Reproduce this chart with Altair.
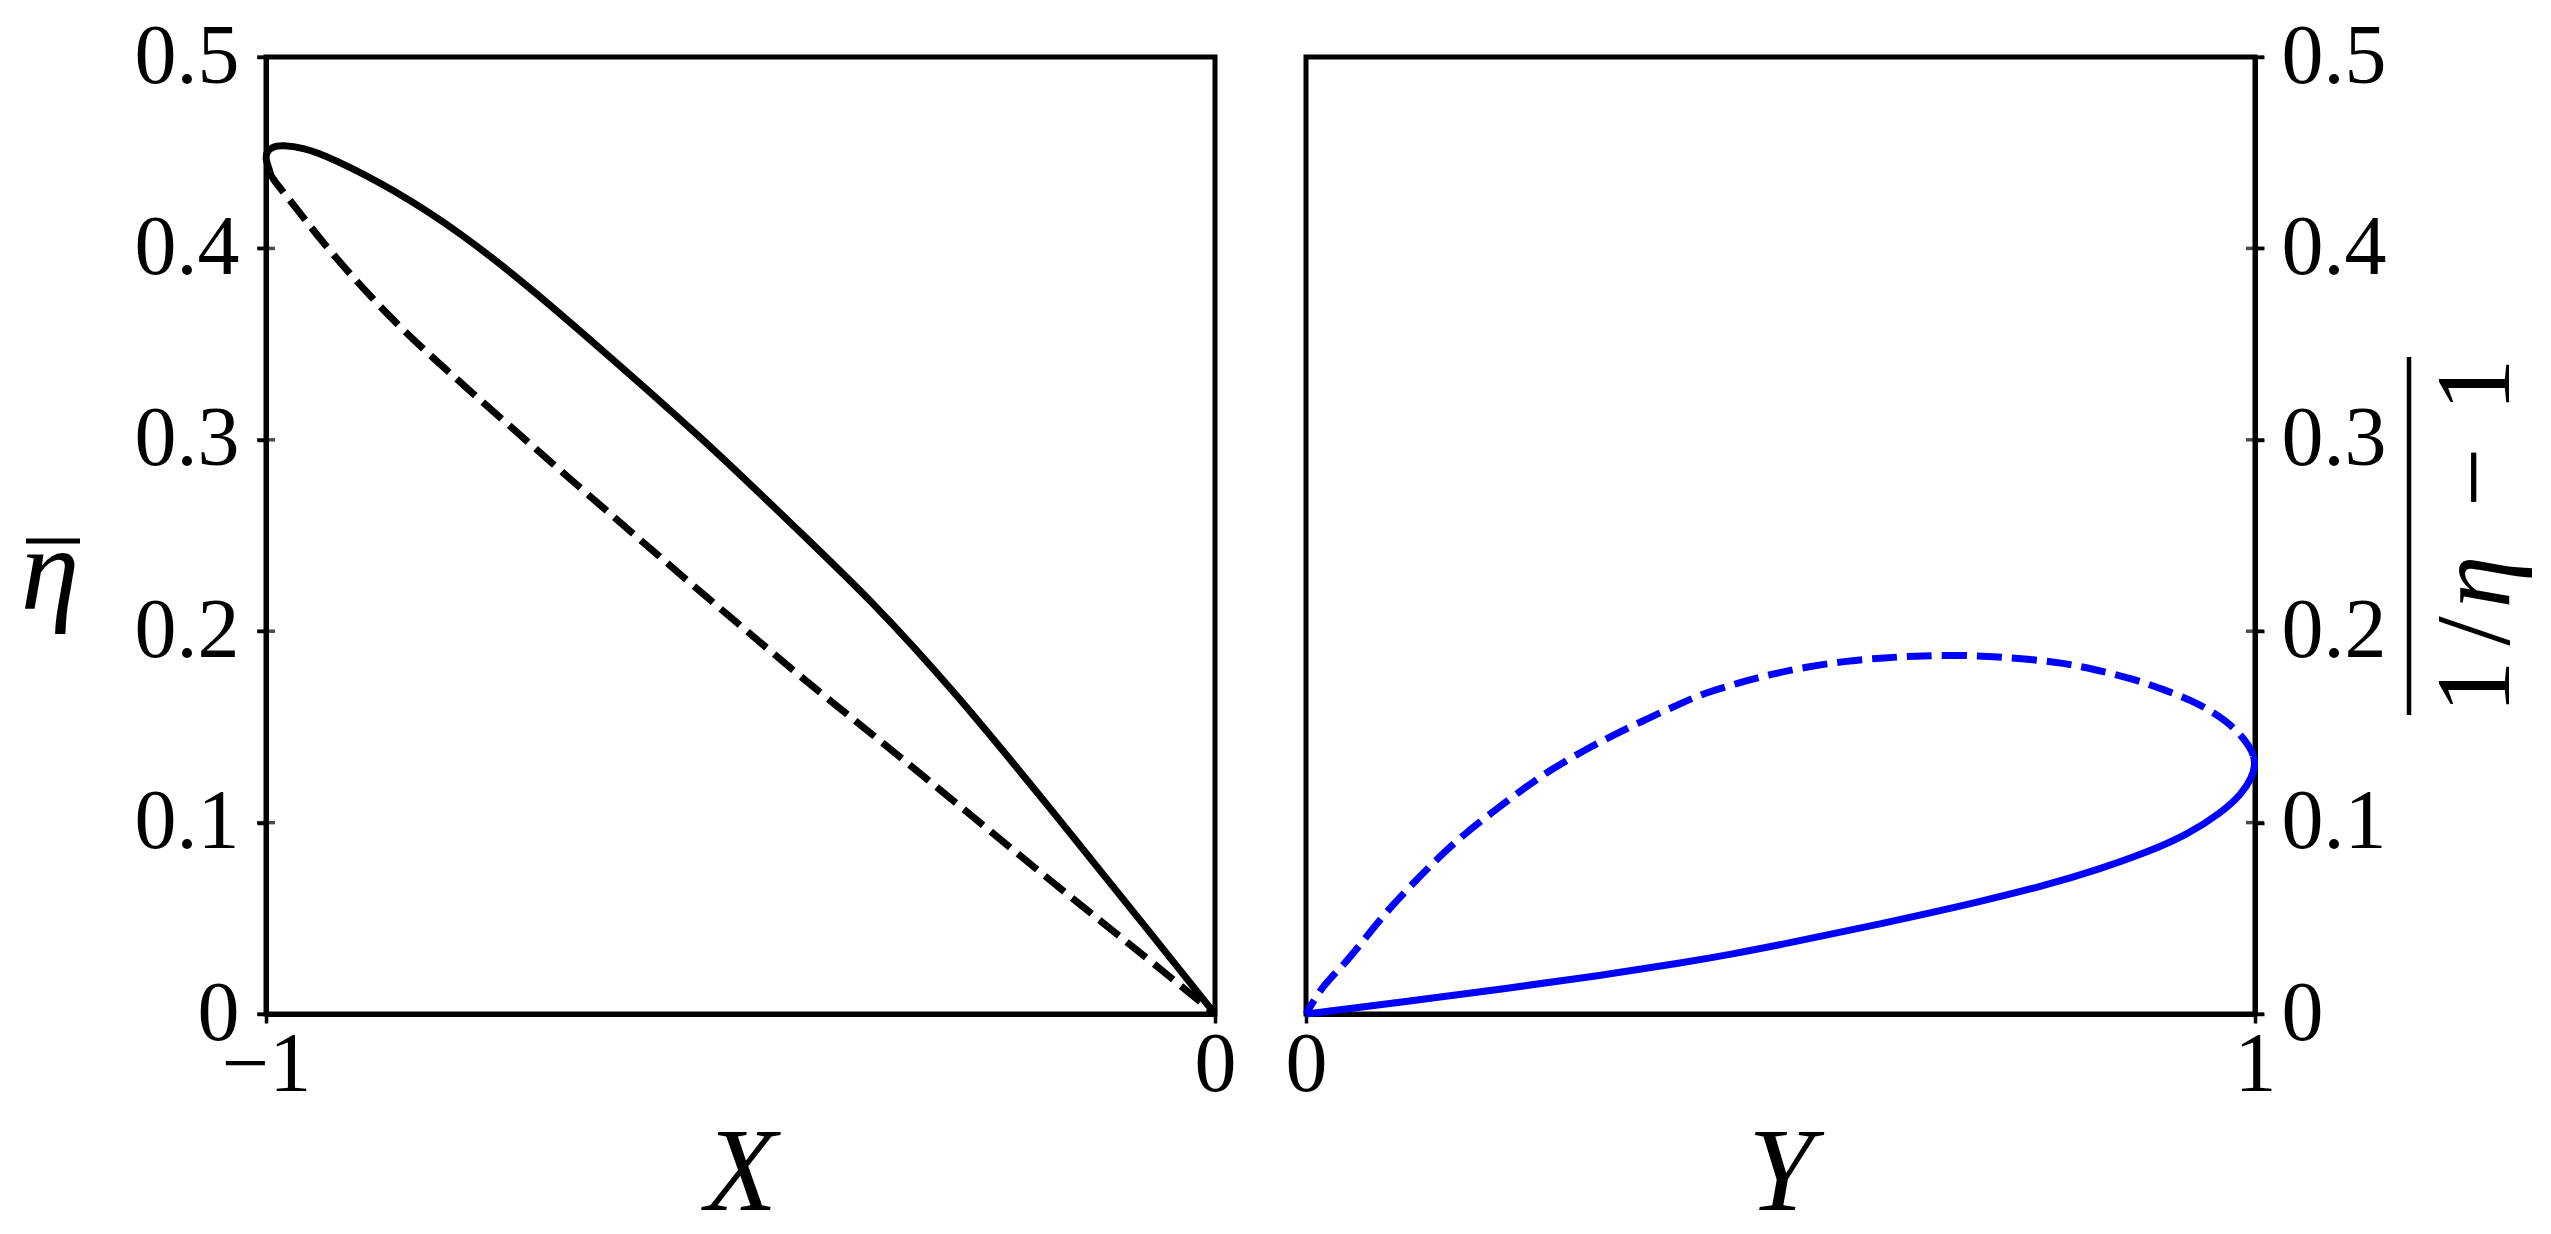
import altair as alt
import pandas as pd

# ---------------- data ----------------
left_solid_X = [0.0, -0.066, -0.172, -0.277, -0.361, -0.435, -0.541, -0.653, -0.723,
                -0.793, -0.864, -0.934, -0.960, -0.983, -0.994, -1.0, -1.0, -0.997, -0.996]
left_solid_eta = [0.0, 0.041, 0.1066, 0.170, 0.2155, 0.2507, 0.3013, 0.350, 0.380,
                  0.4075, 0.4305, 0.448, 0.4525, 0.454, 0.453, 0.450, 0.446, 0.442, 0.440]
left_dash_X = [-0.996, -0.995, -0.994, -0.969, -0.934, -0.864, -0.793, -0.706, -0.646, -0.541,
               -0.417, -0.383, -0.277, -0.172, -0.066, 0.0]
left_dash_eta = [0.440, 0.4385, 0.437, 0.4216, 0.399, 0.3605, 0.329, 0.291, 0.265, 0.220,
                 0.168, 0.155, 0.112, 0.069, 0.027, 0.0]

right_solid_Y = [0.0, 0.0, 0.103, 0.206, 0.310, 0.396, 0.450, 0.501, 0.606, 0.712, 0.782,
                 0.835, 0.887, 0.929, 0.964, 0.986, 0.997, 1.0, 0.999, 0.998]
right_solid_v = [0.0, 0.0, 0.0064, 0.0130, 0.0201, 0.0267, 0.0314, 0.0363, 0.0471, 0.0588, 0.0676,
                 0.0755, 0.0846, 0.0938, 0.105, 0.1149, 0.1237, 0.130, 0.134, 0.135]
right_dash_Y = [0.998, 0.997, 0.990, 0.971, 0.940, 0.905, 0.869, 0.831, 0.796, 0.757, 0.719,
                0.680, 0.641, 0.606, 0.567, 0.529, 0.490, 0.456, 0.420, 0.396, 0.361,
                0.325, 0.294, 0.259, 0.227, 0.198, 0.168, 0.141, 0.115, 0.088, 0.064,
                0.040, 0.017, 0.0, 0.0]
right_dash_v = [0.135, 0.137, 0.143, 0.153, 0.1625, 0.1693, 0.1755, 0.180, 0.1836, 0.1855, 0.187,
                0.1875, 0.187, 0.186, 0.1843, 0.1815, 0.1775, 0.173, 0.1677, 0.1625, 0.1546,
                0.146, 0.138, 0.128, 0.117, 0.106, 0.0945, 0.0824, 0.0694, 0.0553, 0.0406,
                0.0256, 0.0146, 0.0, 0.0]

y_ticks = [0, 0.1, 0.2, 0.3, 0.4, 0.5]
left_x_ticks = [-1, 0]
right_x_ticks = [0, 1]
left_x_title = "X"
right_x_title = "Y"
left_y_title = ["η"]
right_y_title = ["1", "/", "η", "−", "1"]

# ---------------- styling ----------------
FONT = "Liberation Serif"
W, H = 949, 957
TICK_FS = 84
TITLE_FS = 118
RT_FS = 106
BLUE = "#0000ff"
LW = 7
DASH = [25, 10]


def line_df(xs, ys):
    return pd.DataFrame({"x": xs, "y": ys, "o": list(range(len(xs)))})


yscale = alt.Scale(domain=[0, 0.5], nice=False, zero=False)
y_label_expr = "datum.value == 0 ? '0' : format(datum.value, '.1f')"

common_axis = dict(
    grid=False, labelFont=FONT, labelFontSize=TICK_FS, labelColor="black",
    tickColor="black", tickWidth=3.5, tickSize=9, domainColor="black", domainWidth=5,
    titleFont=FONT, titleFontSize=TITLE_FS, titleFontStyle="italic",
    titleFontWeight="normal", titleColor="black", labelFlush=False,
    labelOverlap=False, labelBound=False,
)


def panel(xdomain, xticks, xlabel_expr, xtitle, solid, dash, color, yorient):
    xscale = alt.Scale(domain=xdomain, nice=False, zero=False)
    xaxis = alt.Axis(values=xticks, labelExpr=xlabel_expr, title=xtitle,
                     labelPadding=1, titlePadding=9, **common_axis)
    yaxis = alt.Axis(values=y_ticks, labelExpr=y_label_expr, title=None, orient=yorient,
                     labelPadding=18 if yorient == "left" else 17, **common_axis)
    s = alt.Chart(line_df(*solid)).mark_line(
        color=color, strokeWidth=LW, interpolate="basis", clip=False
    ).encode(
        x=alt.X("x:Q", scale=xscale, axis=xaxis),
        y=alt.Y("y:Q", scale=yscale, axis=yaxis),
        order=alt.Order("o:Q"),
    )
    d = alt.Chart(line_df(*dash)).mark_line(
        color=color, strokeWidth=LW, strokeDash=DASH, strokeCap="butt",
        interpolate="basis", clip=False
    ).encode(
        x=alt.X("x:Q", scale=xscale, axis=xaxis),
        y=alt.Y("y:Q", scale=yscale, axis=yaxis),
        order=alt.Order("o:Q"),
    )
    ticks = alt.Chart(pd.DataFrame({"t": y_ticks})).mark_tick(
        orient="horizontal", size=18, thickness=3.5, color="black"
    ).encode(
        y=alt.Y("t:Q", scale=yscale, axis=yaxis),
        x=alt.value(0 if yorient == "left" else W),
    )
    return [s, d, ticks]


left_layers = panel([-1, 0], left_x_ticks, "datum.value == -1 ? '\u22121' : '0'", left_x_title,
                    (left_solid_X, left_solid_eta), (left_dash_X, left_dash_eta), "black", "left")
right_layers = panel([0, 1], right_x_ticks, "datum.value == 1 ? '1' : '0'", right_x_title,
                     (right_solid_Y, right_solid_v), (right_dash_Y, right_dash_v), BLUE, "right")

# left y title: eta with overline (upright)
lt = alt.Chart(pd.DataFrame({"t": left_y_title})).mark_text(
    font=FONT, fontSize=TITLE_FS, fontStyle="italic", align="center",
    baseline="alphabetic", color="black"
).encode(text="t:N", x=alt.value(-216), y=alt.value(552))
lo = alt.Chart(pd.DataFrame({"a": [0]})).mark_rule(strokeWidth=5, color="black").encode(
    x=alt.value(-240), x2=alt.value(-186), y=alt.value(484))

# right y title: 1/eta - 1 with overline, rotated
piece_pos = [630, 574, 525, 420, 328]
rt_layers = []
for txt, py in zip(right_y_title, piece_pos):
    rt_layers.append(
        alt.Chart(pd.DataFrame({"t": [txt]})).mark_text(
            font=FONT, fontSize=RT_FS, fontStyle="italic" if txt == "η" else "normal",
            angle=270, align="center", baseline="alphabetic", color="black"
        ).encode(text="t:N", x=alt.value(1203), y=alt.value(py))
    )
ro = alt.Chart(pd.DataFrame({"a": [0]})).mark_rule(strokeWidth=4.5, color="black").encode(
    x=alt.value(1103), y=alt.value(300), y2=alt.value(658))

left = alt.layer(*left_layers, lt, lo).properties(width=W, height=H)
right = alt.layer(*right_layers, *rt_layers, ro).properties(width=W, height=H)

chart = alt.hconcat(left, right, spacing=91, bounds="flush").properties(
    padding={"left": 10, "top": 4, "right": 0, "bottom": 0}
).configure_view(stroke="black", strokeWidth=5)

chart.save("out.html", embed_options={"renderer": "svg", "actions": False})
